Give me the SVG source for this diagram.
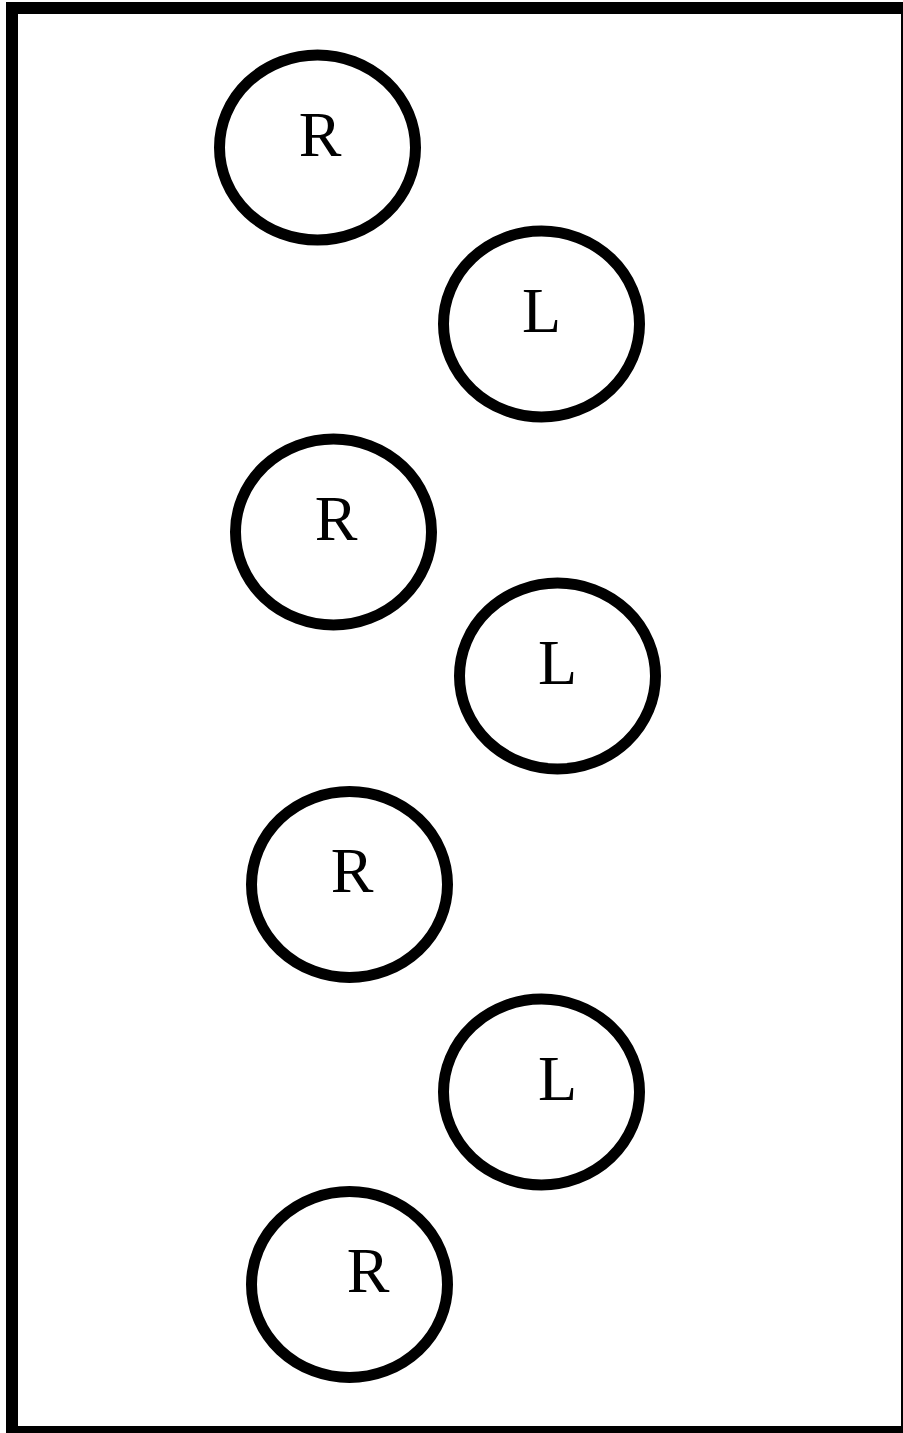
<svg xmlns="http://www.w3.org/2000/svg" width="903" height="1433" viewBox="0 0 903 1433">
<style>
.n ellipse{fill:#fff;stroke:#000;stroke-width:11}
.n text{font-family:"Liberation Serif","Times New Roman",serif;font-size:64px;fill:#000;text-anchor:middle}
</style>
<rect x="0" y="0" width="903" height="1433" fill="#fff"/>
<rect id="frame" x="12" y="8" width="895" height="1424" fill="none" stroke="#000" stroke-width="12"/>
<g id="connectors"></g>
<g id="r1" class="n"><ellipse cx="317.5" cy="147.5" rx="98" ry="92.5"/><text x="320" y="156">R</text></g>
<g id="l1" class="n"><ellipse cx="541.5" cy="324" rx="98" ry="93"/><text x="541.5" y="332">L</text></g>
<g id="r2" class="n"><ellipse cx="333.5" cy="532" rx="98" ry="93"/><text x="336" y="540">R</text></g>
<g id="l2" class="n"><ellipse cx="557.5" cy="676" rx="98" ry="93"/><text x="557.5" y="684">L</text></g>
<g id="r3" class="n"><ellipse cx="349.5" cy="884.5" rx="98" ry="93"/><text x="352" y="892">R</text></g>
<g id="l3" class="n"><ellipse cx="541.5" cy="1092" rx="98" ry="93"/><text x="557.5" y="1100">L</text></g>
<g id="r4" class="n"><ellipse cx="349.5" cy="1284.5" rx="98" ry="93"/><text x="368" y="1292">R</text></g>
</svg>
